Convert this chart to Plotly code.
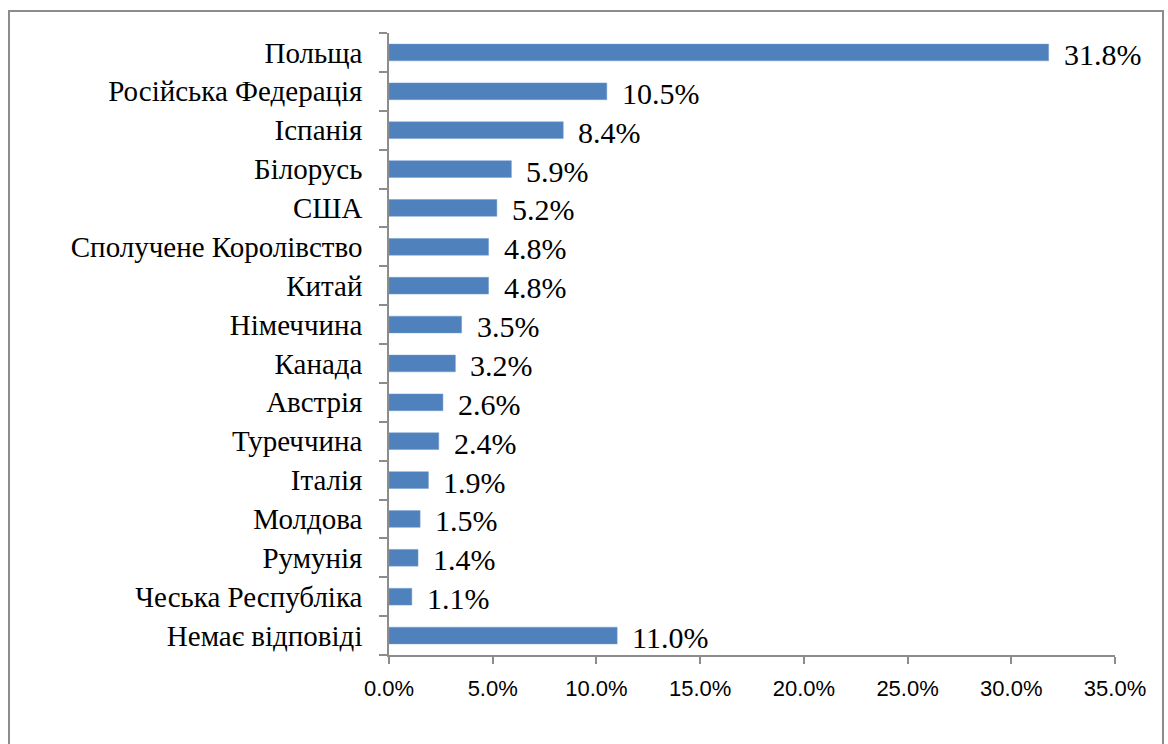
import plotly.graph_objects as go

countries = ["Польща", "Російська Федерація", "Іспанія", "Білорусь", "США",
             "Сполучене Королівство", "Китай", "Німеччина", "Канада", "Австрія",
             "Туреччина", "Італія", "Молдова", "Румунія", "Чеська Республіка",
             "Немає відповіді"]
values = [31.8, 10.5, 8.4, 5.9, 5.2, 4.8, 4.8, 3.5, 3.2, 2.6, 2.4, 1.9, 1.5, 1.4, 1.1, 11.0]
x_ticks = [0, 5, 10, 15, 20, 25, 30, 35]
x_tick_labels = [f"{v:.1f}%" for v in x_ticks]

W, H = 1168, 744
L, R, T, B = 389, 53, 33, 89
pw, ph = W - L - R, H - T - B

SERIF = "Liberation Serif, Times New Roman, serif"
SANS = "Liberation Sans, Arial, sans-serif"

idx = list(range(len(countries)))

fig = go.Figure()
fig.add_trace(go.Bar(
    x=values, y=idx, orientation="h",
    marker=dict(color="#4F81BD", line=dict(color="#6F9AD0", width=0.5)),
    width=0.43, hoverinfo="skip",
))

for i, v in zip(idx, values):
    fig.add_annotation(x=v, y=i, text=f"{v:.1f}%", showarrow=False,
                       xanchor="left", yanchor="middle", xshift=13, yshift=-2,
                       font=dict(family=SERIF, size=30, color="black"))

def px_to_paper_x(px):
    return (px - L) / pw

def px_to_paper_y(py):
    return (H - B - py) / ph

fig.add_shape(type="rect", xref="paper", yref="paper",
              x0=px_to_paper_x(9), x1=px_to_paper_x(1163),
              y0=px_to_paper_y(760), y1=px_to_paper_y(11),
              line=dict(color="#8C8C8C", width=2), fillcolor="rgba(0,0,0,0)", layer="below")

fig.update_layout(
    width=W, height=H,
    margin=dict(l=L, r=R, t=T, b=B, pad=0, autoexpand=False),
    paper_bgcolor="white", plot_bgcolor="white",
    showlegend=False,
    xaxis=dict(range=[0, 35], tickvals=x_ticks, ticktext=x_tick_labels, automargin=False,
               showgrid=False, zeroline=False, showline=True, linecolor="#8C8C8C", linewidth=1.5,
               ticks="outside", ticklen=7, tickcolor="#8C8C8C", tickwidth=1.5,
               ticklabelstandoff=6,
               tickfont=dict(family=SANS, size=22, color="black")),
    yaxis=dict(range=[15.5, -0.5], tickvals=idx, ticktext=countries, automargin=False,
               showgrid=False, zeroline=False, showline=True, linecolor="#8C8C8C", linewidth=1.5,
               ticks="", ticklabelstandoff=19,
               minor=dict(ticks="outside", tick0=0.5, dtick=1, ticklen=8,
                          tickcolor="#8C8C8C", tickwidth=1.5, showgrid=False),
               tickfont=dict(family=SERIF, size=29, color="black")),
)

fig.write_html("out.html", config={"displayModeBar": False},
               post_script="document.body.style.margin='0';document.body.style.overflow='hidden';")
